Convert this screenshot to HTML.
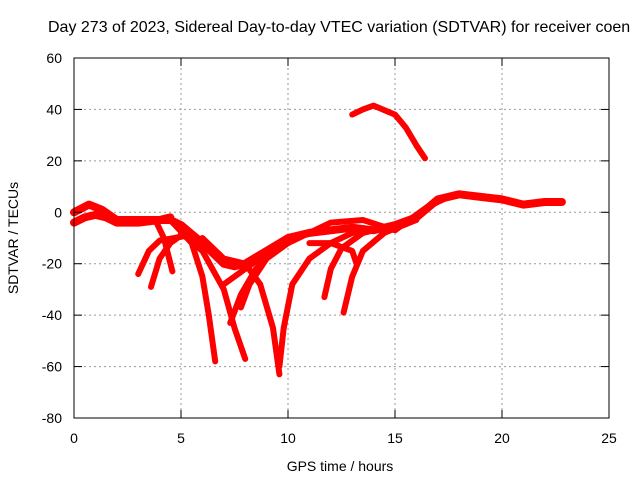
<!DOCTYPE html>
<html><head><meta charset="utf-8"><style>
body{margin:0;background:#fff}
svg{display:block;font-family:"Liberation Sans",sans-serif}
</style></head><body>
<svg id="chart" width="640" height="480" viewBox="0 0 640 480">
<text x="48" y="32" font-size="16" text-anchor="start">Day 273 of 2023, Sidereal Day-to-day VTEC variation (SDTVAR) for receiver coen</text>
<g id="grid"></g>
<g id="series"></g>
<rect x="74" y="58" width="535" height="360" fill="none" stroke="#000" stroke-width="1"/>
<g id="axes"></g>
<text x="340" y="471" font-size="14" text-anchor="middle">GPS time / hours</text>
<text x="18" y="238" font-size="14" text-anchor="middle" transform="rotate(-90 18 238)">SDTVAR / TECUs</text>
</svg>
<script>
const xTicks=[0,5,10,15,20,25];
const yTicks=[60,40,20,0,-20,-40,-60,-80];
const t1=[0,0.7,1.3,2,3,4.5,5,6,7,7.5,8,9,10,11,12,13,14,15,16,17,18,19,20,21,22,22.8];
const v1=[0,3,1,-3,-3,-3,-5,-12,-20,-21,-20,-15,-10,-8,-7,-6,-7,-5,-2,5,7,6,5,3,4,4];
const t2=[0,0.5,1,1.5,2,3,4,4.5];
const v2=[-4,-2,-1,-2,-4,-4,-3,-2];
const t3=[4.5,5.5,6,6.3,6.6];
const v3=[-3,-12,-25,-40,-58];
const t4=[5,6,7,7.5,8];
const v4=[-8,-15,-30,-45,-57];
const t5=[6,7,8,8.7,9.3,9.6];
const v5=[-10,-18,-20,-28,-45,-63];
const t6=[3,3.5,4,4.7,5.3];
const v6=[-24,-15,-11,-10,-9];
const t7=[3.6,4,4.5,5];
const v7=[-29,-18,-12,-9];
const t8=[3.8,4.2,4.6];
const v8=[-3,-10,-23];
const t9=[7.3,7.8,8.5,9.5,10.5];
const v9=[-43,-32,-22,-14,-9];
const t10=[7.8,8.2,9,10];
const v10=[-37,-28,-18,-12];
const t11=[9.6,9.8,10.2,11,12,13,14];
const v11=[-60,-45,-28,-18,-12,-8,-7];
const t12=[11.7,12,12.5,13.5,15];
const v12=[-33,-22,-14,-8,-5];
const t13=[12.6,13,13.5,14.5,16];
const v13=[-39,-25,-15,-8,-3];
const t14=[11,12,13,13.2];
const v14=[-12,-12,-15,-20];
const t15=[13,13.5,14,15,15.5,16,16.4];
const v15=[38,40,41.5,38,33,26,21];
const t16=[7,9,12,13.5,15,16.5,17.5];
const v16=[-28,-16,-4,-3,-7,2,6];
const seriesT=[t1,t2,t3,t4,t5,t6,t7,t8,t9,t10,t11,t12,t13,t14,t15,t16];
const seriesV=[v1,v2,v3,v4,v5,v6,v7,v8,v9,v10,v11,v12,v13,v14,v15,v16];
const X=h=>74+h*(535/25);
const Y=v=>58+(60-v)*(360/140);
const NS='http://www.w3.org/2000/svg';
const grid=document.getElementById('grid'),axes=document.getElementById('axes'),ser=document.getElementById('series');
function mk(tag,at,parent){const e=document.createElementNS(NS,tag);for(const k in at)e.setAttribute(k,at[k]);parent.appendChild(e);return e;}
xTicks.forEach(t=>{
 const x=X(t);
 if(t>0&&t<25){const g=mk('line',{x1:x,x2:x,y1:58,y2:418,stroke:'#999','stroke-dasharray':'2,3'},grid);
 
 }
 const a=mk('line',{x1:x,x2:x,y1:418,y2:410,stroke:'#000'},axes);
 
 
 const b=mk('line',{x1:x,x2:x,y1:58,y2:66,stroke:'#000'},axes);
 
 
 const l=mk('text',{x:x,y:443,'font-size':14,'text-anchor':'middle'},axes);l.textContent=t;
 
 
});
yTicks.forEach(v=>{
 const y=Y(v);
 if(v<60&&v>-80){const g=mk('line',{x1:74,x2:609,y1:y,y2:y,stroke:'#999','stroke-dasharray':'2,3'},grid);
 
 }
 const a=mk('line',{x1:74,x2:82,y1:y,y2:y,stroke:'#000'},axes);
 
 
 const b=mk('line',{x1:601,x2:609,y1:y,y2:y,stroke:'#000'},axes);
 
 
 const l=mk('text',{x:62,y:y+5,'font-size':14,'text-anchor':'end'},axes);l.textContent=v;
 
 
});
seriesT.forEach((ts,i)=>{
 const vs=seriesV[i];
 const pts=ts.map((t,j)=>X(t).toFixed(1)+','+Y(vs[j]).toFixed(1)).join(' ');
 const p=mk('polyline',{points:pts,fill:'none',stroke:'#f00','stroke-width':i<2?8:6,'stroke-linejoin':'round','stroke-linecap':'round'},ser);
 
 
});
</script>
</body></html>
